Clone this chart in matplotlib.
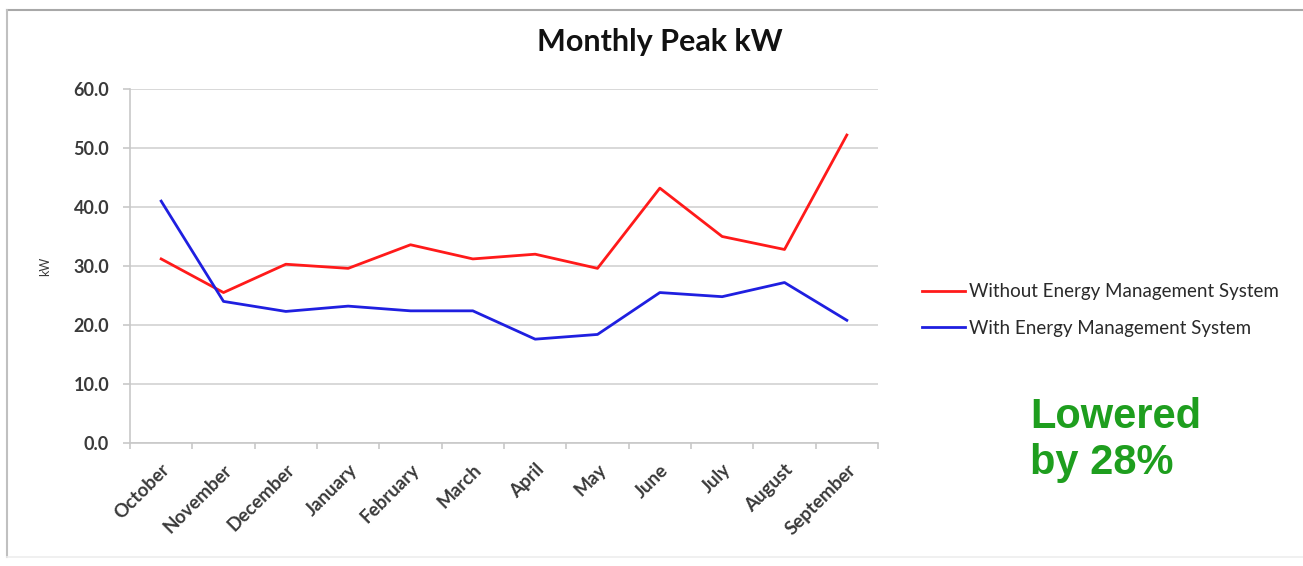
import matplotlib
matplotlib.use("Agg")
import matplotlib.pyplot as plt
from matplotlib.lines import Line2D
import numpy as np

months = ["October", "November", "December", "January", "February", "March",
          "April", "May", "June", "July", "August", "September"]
without_ems = [31.2, 25.5, 30.3, 29.6, 33.6, 31.2, 32.0, 29.6, 43.2, 35.0, 32.8, 52.2]
with_ems = [41.0, 24.0, 22.3, 23.2, 22.4, 22.4, 17.6, 18.4, 25.5, 24.8, 27.2, 20.8]
y_ticks = [0, 10, 20, 30, 40, 50, 60]
series_labels = ["Without Energy Management System", "With Energy Management System"]
title = "Monthly Peak kW"
note = "Lowered\nby 28%"

W, H = 1303, 566
fig = plt.figure(figsize=(W / 100, H / 100), dpi=100)
fig.patch.set_facecolor("white")

ax = fig.add_axes([130 / W, 1 - 443 / H, (878 - 130) / W, (443 - 89) / H])
x = np.arange(len(months))
ax.plot(x, without_ems, color="#ff1a1a", lw=2.0, zorder=3)
ax.plot(x, with_ems, color="#1f1fe0", lw=2.0, zorder=3)

ax.set_xlim(-0.5, len(months) - 0.5)
ax.set_ylim(0, 60)
ax.set_yticks(y_ticks)
ax.set_yticklabels([f"{v:.1f}" for v in y_ticks])
ax.yaxis.grid(True, color="#d6d6d6", lw=1.3)
ax.set_axisbelow(True)

for s in ["top", "right"]:
    ax.spines[s].set_visible(False)
for s in ["left", "bottom"]:
    ax.spines[s].set_color("#c8c8c8")
    ax.spines[s].set_linewidth(1.2)

ax.set_xticks(x)
ax.set_xticklabels(months, rotation=45, ha="right", va="top", rotation_mode="anchor")
ax.set_xticks(np.arange(-0.5, len(months), 1.0), minor=True)
ax.tick_params(axis="x", which="major", length=0, pad=13)
ax.tick_params(axis="x", which="minor", length=4, color="#c8c8c8", width=1.2)
ax.tick_params(axis="y", length=5, color="#c8c8c8", width=1.2, pad=10)
for lab in ax.get_xticklabels():
    lab.set_fontfamily("Lato")
    lab.set_fontweight("bold")
    lab.set_fontsize(13.5)
    lab.set_color("#3a3a3a")
for lab in ax.get_yticklabels():
    lab.set_fontfamily("Lato")
    lab.set_fontweight("bold")
    lab.set_fontsize(13)
    lab.set_color("#3a3a3a")

fig.text(45 / W, 1 - 266 / H, "kW", rotation=90, ha="center", va="center",
         fontsize=9, family="Lato", color="#3a3a3a")

fig.text(660 / W, 1 - 42 / H, title, ha="center", va="center",
         fontsize=22, family="Lato", fontweight="bold", color="#111111")

handles = [Line2D([], [], color="#ff1a1a", lw=2.0), Line2D([], [], color="#1f1fe0", lw=2.0)]
fig.legend(handles, series_labels, loc="center left",
           bbox_to_anchor=(905 / W, 1 - 310 / H), frameon=False,
           prop={"family": "Lato", "size": 13.5}, handlelength=2.3,
           handletextpad=0.2, labelspacing=1.05, labelcolor="#2a2a2a")

fig.text(1030 / W, 1 - 440 / H, note, ha="left", va="center", fontsize=30,
         family="Liberation Sans", fontweight="bold", color="#1e9e1e",
         linespacing=1.2)

# outer frame
fig.add_artist(Line2D([7 / W, 1], [1 - 10 / H, 1 - 10 / H], color="#a8a8a8", lw=1.5))
fig.add_artist(Line2D([7 / W, 7 / W], [1 - 10 / H, 1 - 557 / H], color="#c0c0c0", lw=1.5))
fig.add_artist(Line2D([7 / W, 1], [1 - 557 / H, 1 - 557 / H], color="#eeeeee", lw=1.2))

fig.savefig("out.png", dpi=100, facecolor="white")
